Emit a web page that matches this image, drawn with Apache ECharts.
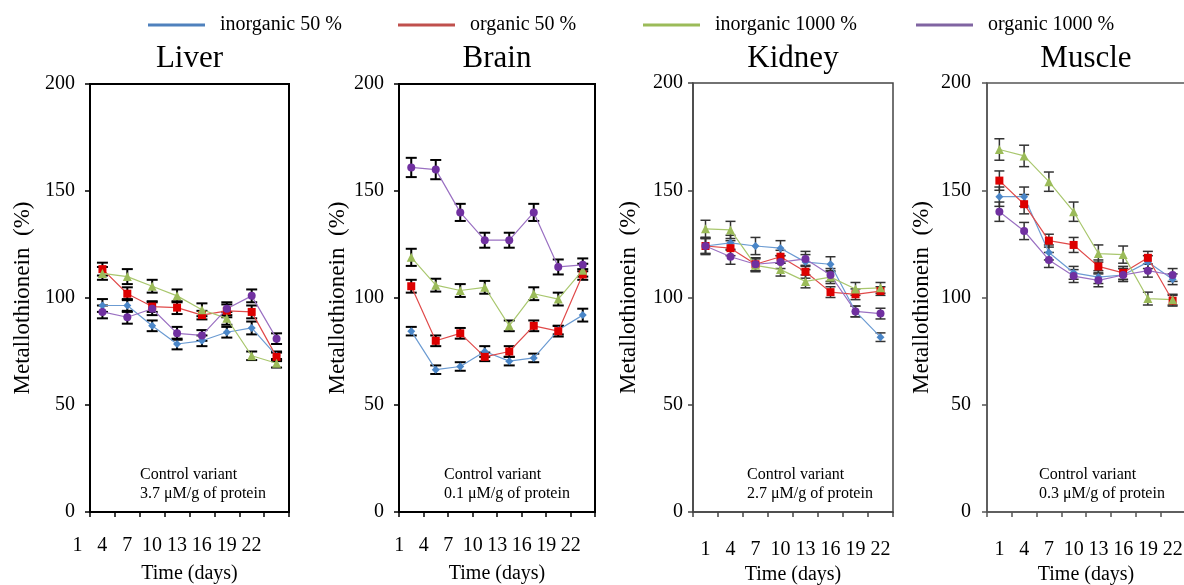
<!DOCTYPE html>
<html>
<head>
<meta charset="UTF-8">
<title>Metallothionein</title>
<script src="https://cdn.jsdelivr.net/npm/echarts@6/dist/echarts.min.js"></script>
<style>
	html, body { margin: 0; padding: 0; background: #fff; }
	#main { width: 1184px; height: 585px; }
</style>
</head>
<body>
<div id="main"></div>
<script type="text/javascript">
// categories / ticks
var days = ['1', '4', '7', '10', '13', '16', '19', '22'];
var seriesNames = ['inorganic 50 %', 'organic 50 %', 'inorganic 1000 %', 'organic 1000 %'];
var yMin = 0, yMax = 200, yStep = 50;

// Liver
var liverIn50 = [96.5, 96.5, 87, 78.5, 80, 84, 86, 73];
var liverOrg50 = [113.5, 102, 96, 95.5, 92, 94, 93.5, 72.5];
var liverIn1000 = [111.5, 110, 105.5, 101, 94.5, 90.5, 73, 69.5];
var liverOrg1000 = [93.5, 91, 95, 83.5, 82.5, 95, 101, 81];
var liverErrIn50 = [3, 3, 2.5, 2.5, 2.5, 2.5, 3, 2];
var liverErrOrg50 = [3, 3, 2.5, 3, 2, 3, 3, 2];
var liverErrIn1000 = [3, 3.5, 3, 3, 3, 3, 2, 2];
var liverErrOrg1000 = [3, 3, 3, 3, 2.5, 3, 3, 2.5];

// Brain
var brainIn50 = [84.5, 66.5, 68, 75, 70.5, 72, 85, 92];
var brainOrg50 = [105.5, 80, 83.5, 72.5, 75, 87, 84.5, 111];
var brainIn1000 = [119, 106, 103.5, 105, 87, 102, 99.5, 113];
var brainOrg1000 = [161, 160, 140, 127, 127, 140, 114.5, 115.5];
var brainErrIn50 = [2, 2, 2, 2.5, 2, 2, 2, 3];
var brainErrOrg50 = [3, 2.5, 2.5, 2, 2.5, 2.5, 2.5, 2.5];
var brainErrIn1000 = [4, 3, 3, 3, 2.5, 3, 3, 3];
var brainErrOrg1000 = [4.5, 4.5, 4, 3.5, 3.5, 4, 3.5, 3];

// Kidney
var kidneyIn50 = [124, 125.5, 124, 123, 116.5, 115.5, 93.5, 81.5];
var kidneyOrg50 = [124, 123, 115.5, 119, 112, 102.5, 101.5, 103];
var kidneyIn1000 = [132, 131.5, 115, 113, 107.5, 109.5, 104, 104.5];
var kidneyOrg1000 = [124, 119, 115.5, 116.5, 118, 110.5, 93.5, 92.5];
var kidneyErrIn50 = [4, 3.5, 4, 3.5, 3.5, 3.5, 2.5, 2];
var kidneyErrOrg50 = [3.5, 3.5, 3, 3, 3, 2.5, 2.5, 2];
var kidneyErrIn1000 = [4, 4, 3, 3, 3, 3, 3, 2.5];
var kidneyErrOrg1000 = [3.5, 3.5, 3, 3, 3.5, 3, 2.5, 2.5];

// Muscle
var muscleIn50 = [147, 147, 121, 111.5, 109.5, 110.5, 116.5, 108.5];
var muscleOrg50 = [154.5, 143.5, 126.5, 124.5, 114.5, 111.5, 118.5, 98.5];
var muscleIn1000 = [169, 166, 154, 140, 120.5, 120, 99.5, 99];
var muscleOrg1000 = [140, 131, 117.5, 110, 108, 110.5, 112.5, 110.5];
var muscleErrIn50 = [4.5, 4.5, 3.5, 3, 3, 3, 3, 2.5];
var muscleErrOrg50 = [4.5, 4.5, 3, 3.5, 3, 3, 3, 2.5];
var muscleErrIn1000 = [5, 5, 4.5, 4.5, 4, 4, 3, 2.5];
var muscleErrOrg1000 = [4.5, 4, 3.5, 3, 3, 3, 3, 3];

var FONT = '"Liberation Serif", "Times New Roman", serif';
var lineColors = ['#6b9bd2', '#e04a4a', '#a9c76e', '#9a70c2'];
var markColors = ['#4a86c8', '#dd0000', '#9bbb59', '#7030a0'];
var legendColors = ['#4f81bd', '#c0504d', '#9bbb59', '#8064a2'];
var symbols = ['diamond', 'rect', 'triangle', 'circle'];
var symbolSizes = [8, 8, 9, 8];
var legendLeft = [143, 393, 638, 911];

var panels = [
	{ title: 'Liver', control: '3.7 μM/g of protein', values: [liverIn50, liverOrg50, liverIn1000, liverOrg1000],
	  errors: [liverErrIn50, liverErrOrg50, liverErrIn1000, liverErrOrg1000],
	  left: 90, top: 84, width: 199, height: 428, frame: '#000', frameW: 2, bar: '#000', barW: 2, cap: 5.5,
	  shift: 25, xMargin: 24, yMargin: 15, nameGap: 56, textX: 140 },
	{ title: 'Brain', control: '0.1 μM/g of protein', values: [brainIn50, brainOrg50, brainIn1000, brainOrg1000],
	  errors: [brainErrIn50, brainErrOrg50, brainErrIn1000, brainErrOrg1000],
	  left: 399, top: 84, width: 196, height: 428, frame: '#000', frameW: 2, bar: '#000', barW: 2, cap: 5.5,
	  shift: 12, xMargin: 24, yMargin: 15, nameGap: 50, textX: 444 },
	{ title: 'Kidney', control: '2.7 μM/g of protein', values: [kidneyIn50, kidneyOrg50, kidneyIn1000, kidneyOrg1000],
	  errors: [kidneyErrIn50, kidneyErrOrg50, kidneyErrIn1000, kidneyErrOrg1000],
	  left: 693, top: 83, width: 200, height: 429, frame: '#444', frameW: 1.5, bar: '#333', barW: 1.5, cap: 5,
	  shift: 0, xMargin: 28, yMargin: 10, nameGap: 53, textX: 747 },
	{ title: 'Muscle', control: '0.3 μM/g of protein', values: [muscleIn50, muscleOrg50, muscleIn1000, muscleOrg1000],
	  errors: [muscleErrIn50, muscleErrOrg50, muscleErrIn1000, muscleErrOrg1000],
	  left: 987, top: 83, width: 198, height: 429, frame: '#555', frameW: 1.5, bar: '#333', barW: 1.5, cap: 5,
	  shift: 0, xMargin: 28, yMargin: 16, nameGap: 54, textX: 1039 }
];

function errorBar(color, lw, w) {
	return function (params, api) {
		var x = api.value(0);
		var hi = api.coord([x, api.value(2)]);
		var lo = api.coord([x, api.value(1)]);
		var st = { stroke: color, lineWidth: lw };
		return {
			type: 'group',
			children: [
				{ type: 'line', shape: { x1: hi[0], y1: hi[1], x2: lo[0], y2: lo[1] }, style: st },
				{ type: 'line', shape: { x1: hi[0] - w, y1: hi[1], x2: hi[0] + w, y2: hi[1] }, style: st },
				{ type: 'line', shape: { x1: lo[0] - w, y1: lo[1], x2: lo[0] + w, y2: lo[1] }, style: st }
			]
		};
	};
}

var grids = [], xAxes = [], yAxes = [], series = [], graphics = [];

panels.forEach(function (p, pi) {
	grids.push({ left: p.left, top: p.top, width: p.width, height: p.height, show: true,
		outerBoundsMode: 'none', containLabel: false,
		borderColor: p.frame, borderWidth: p.frameW, backgroundColor: 'transparent' });
	xAxes.push({
		gridIndex: pi, type: 'category', data: days, boundaryGap: true,
		name: 'Time (days)', nameLocation: 'middle', nameGap: 52,
		nameTextStyle: { fontSize: 20, fontFamily: FONT, color: '#000' },
		axisLine: { lineStyle: { color: p.frame, width: p.frameW } },
		axisTick: { show: true, inside: false, length: 5, interval: 0, lineStyle: { color: p.frame, width: 1.5 } },
		axisLabel: { interval: 0, margin: p.xMargin, fontSize: 20, fontFamily: FONT, color: '#000',
			padding: [0, p.shift * 2, 0, 0] },
		splitLine: { show: false }
	});
	yAxes.push({
		gridIndex: pi, type: 'value', min: yMin, max: yMax, interval: yStep,
		name: 'Metallothionein  (%)', nameLocation: 'middle', nameGap: p.nameGap,
		nameTextStyle: { fontSize: 23, fontFamily: FONT, color: '#000' },
		axisLine: { show: true, lineStyle: { color: p.frame, width: p.frameW } },
		axisTick: { show: true, inside: false, length: 5, lineStyle: { color: p.frame, width: 1.5 } },
		axisLabel: { margin: p.yMargin, fontSize: 20, fontFamily: FONT, color: '#000' },
		splitLine: { show: false }
	});

	p.values.forEach(function (vals, si) {
		var errs = p.errors[si];
		series.push({
			type: 'custom', name: 'err' + pi + si, xAxisIndex: pi, yAxisIndex: pi, silent: true,
			renderItem: errorBar(p.bar, p.barW, p.cap), encode: { x: 0, y: [1, 2] }, z: 2,
			data: vals.map(function (v, i) { return [i, v - errs[i], v + errs[i]]; })
		});
	});
	p.values.forEach(function (vals, si) {
		series.push({
			type: 'line', name: seriesNames[si], xAxisIndex: pi, yAxisIndex: pi, data: vals,
			symbol: symbols[si], symbolSize: symbolSizes[si], showAllSymbol: true,
			itemStyle: { color: markColors[si] },
			lineStyle: { color: lineColors[si], width: 1.2 },
			z: 3, animation: false
		});
	});

	graphics.push({ type: 'text', x: p.left + p.width / 2, y: 59,
		style: { text: p.title, font: '31px ' + FONT, fill: '#000', align: 'center', verticalAlign: 'middle',
			textAlign: 'center', textVerticalAlign: 'middle' } });
	graphics.push({ type: 'text', x: p.textX, y: 465,
		style: { text: 'Control variant\n' + p.control, font: '16px ' + FONT, fill: '#000', lineHeight: 19 } });
});

var legends = seriesNames.map(function (n, i) {
	return {
		left: legendLeft[i], top: 10, selectedMode: false, icon: 'rect', itemWidth: 57, itemHeight: 3,
		data: [{ name: n, itemStyle: { color: legendColors[i] } }],
		textStyle: { fontSize: 20, fontFamily: FONT, color: '#000', padding: [0, 0, 0, 10] }
	};
});

var myChart = echarts.init(document.getElementById('main'));
myChart.setOption({
	animation: false,
	backgroundColor: '#fff',
	legend: legends,
	grid: grids,
	xAxis: xAxes,
	yAxis: yAxes,
	series: series,
	graphic: graphics
});
</script>
</body>
</html>
